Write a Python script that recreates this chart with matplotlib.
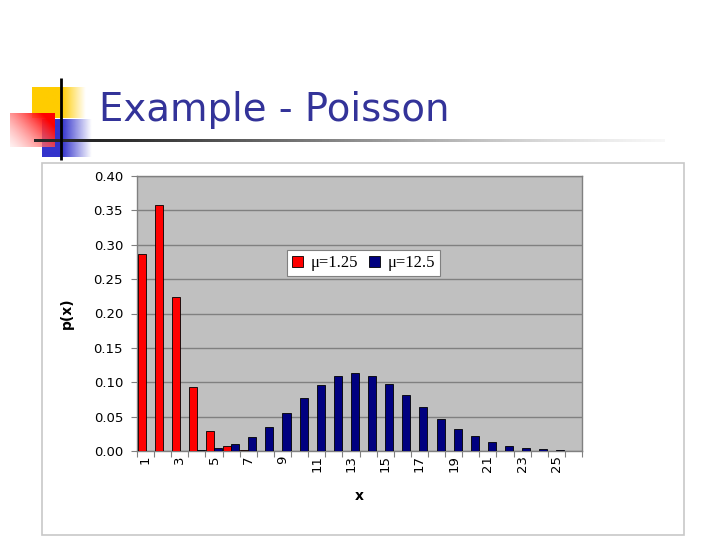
import numpy as np
import matplotlib
matplotlib.use("Agg")
import matplotlib.pyplot as plt
from matplotlib.patches import Rectangle

# categories shown on the x axis (1..26)
categories = list(range(1, 27))
tick_labels = [str(c) if c % 2 == 1 else "" for c in categories]

# values
p_mu_small = [0.287, 0.358, 0.224, 0.093, 0.029, 0.007, 0.0015, 0.0003, 0.0001, 0.0,
              0.0, 0.0, 0.0, 0.0, 0.0, 0.0, 0.0, 0.0, 0.0, 0.0,
              0.0, 0.0, 0.0, 0.0, 0.0, 0.0]
p_mu_large = [0.0, 0.0001, 0.0003, 0.0012, 0.0038, 0.0095, 0.0198, 0.0353, 0.0551, 0.0765,
              0.0957, 0.1087, 0.1133, 0.1089, 0.0973, 0.0811, 0.0633, 0.0466, 0.0323, 0.0213,
              0.0133, 0.0079, 0.0045, 0.0024, 0.0013, 0.0006]
series_names = ["\u03bc=1.25", "\u03bc=12.5"]

W, H = 720, 540
fig = plt.figure(figsize=(7.2, 5.4), dpi=100)

# slide background / decoration
bg = fig.add_axes([0, 0, 1, 1])
bg.set_xlim(0, W)
bg.set_ylim(H, 0)
bg.axis("off")


def grad_box(x0, x1, y0, y1, rgb, solid_frac):
    n = 100
    t = np.linspace(0, 1, n)
    a = np.clip((1 - t) / (1 - solid_frac), 0, 1)
    a = np.where(t < solid_frac, 1.0, a)
    img = np.zeros((2, n, 4))
    img[..., :3] = rgb
    img[..., 3] = a
    bg.imshow(img, extent=(x0, x1, y1, y0), aspect="auto", interpolation="bilinear", zorder=1)


grad_box(32, 86, 87, 118, (1.0, 0.8, 0.0), 0.55)
grad_box(42, 92, 119, 157, (0.2, 0.2, 0.8), 0.4)

# red box: light pink lower-left -> red upper-right
n = 60
xx, yy = np.meshgrid(np.linspace(0, 1, n), np.linspace(0, 1, n))
s = np.clip((1.4 * xx + (1 - yy)) / 2.0, 0, 1)
red_img = np.zeros((n, n, 4))
red_img[..., 0] = 1.0
red_img[..., 1] = 0.9 * (1 - s)
red_img[..., 2] = 0.9 * (1 - s)
red_img[..., 3] = 0.5 + 0.5 * s
bg.imshow(red_img, extent=(10, 55, 147, 113), aspect="auto", interpolation="bilinear", zorder=2)

# horizontal rule fading to grey
m = 200
line_img = np.zeros((1, m, 4))
fade = np.clip((np.linspace(0, 1, m) - 0.1) / 0.9, 0, 1)
line_img[..., :3] = (0.15 + 0.7 * fade)[None, :, None]
line_img[..., 3] = 1 - 0.8 * fade ** 2
bg.imshow(line_img, extent=(34, 665, 142.5, 140), aspect="auto", interpolation="bilinear", zorder=3)
bg.plot([61, 61], [78, 160], color="black", lw=2.0, zorder=4, solid_capstyle="butt")

bg.text(99, 110, "Example - Poisson", color="#333399", fontsize=27.8,
        family="DejaVu Sans", va="center", ha="left")

# chart area
bg.add_patch(Rectangle((42, 163), 642, 372, facecolor="white", edgecolor="#c8c8c8", lw=1.2, zorder=1))

# plot area
left, right, top, bottom = 137, 582, 176, 451
ax = fig.add_axes([left / W, (H - bottom) / H, (right - left) / W, (bottom - top) / H])
ax.set_facecolor("#c0c0c0")

x = np.arange(len(categories)) + 0.5
w = 0.47
ax.bar(x - w / 2, p_mu_small, width=w, color="#ff0000", edgecolor="black", lw=0.6,
       label=series_names[0], zorder=3)
ax.bar(x + w / 2, p_mu_large, width=w, color="#000080", edgecolor="black", lw=0.6,
       label=series_names[1], zorder=3)

ax.set_xlim(0, len(categories))
ax.set_ylim(0, 0.40)
yt = np.arange(0, 0.401, 0.05)
ax.set_yticks(yt)
ax.set_yticklabels([f"{v:.2f}" for v in yt], family="DejaVu Sans", fontsize=9.5)
ax.yaxis.grid(True, color="#808080", lw=1, zorder=0)
ax.set_axisbelow(True)

ax.set_xticks(np.arange(0, len(categories) + 1))
ax.set_xticklabels([])
ax.set_xticks(x, minor=True)
ax.set_xticklabels(tick_labels, minor=True, rotation=90, family="DejaVu Sans", fontsize=9.5)
ax.tick_params(axis="x", which="major", length=4, color="#808080", direction="out")
ax.tick_params(axis="x", which="minor", length=0, pad=3)
ax.tick_params(axis="y", length=4, color="#808080", pad=6)

for sp in ax.spines.values():
    sp.set_color("#808080")
    sp.set_linewidth(1)

ax.set_ylabel("p(x)", fontweight="bold", family="DejaVu Sans", fontsize=10, labelpad=14)
ax.set_xlabel("x", fontweight="bold", family="DejaVu Sans", fontsize=10, labelpad=12)

leg = ax.legend(loc="lower left", bbox_to_anchor=(0.337, 0.636), ncol=2, frameon=True,
                fancybox=False, framealpha=1, prop={"family": "Liberation Serif", "size": 12},
                handlelength=0.65, handleheight=0.65, handletextpad=0.45, columnspacing=0.7,
                borderpad=0.3, borderaxespad=0)
leg.get_frame().set_edgecolor("#808080")
leg.get_frame().set_linewidth(0.8)

fig.savefig("out.png", dpi=100)
